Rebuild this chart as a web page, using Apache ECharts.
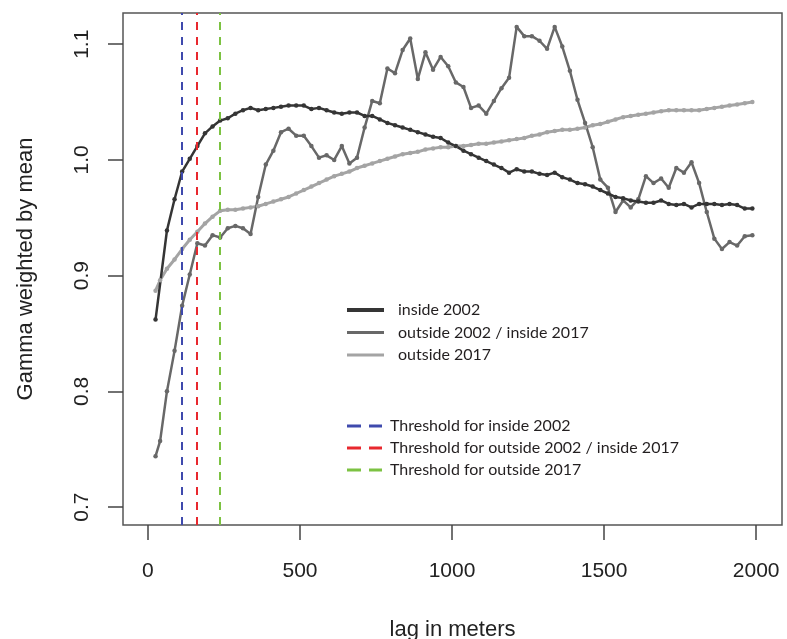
<!DOCTYPE html>
<html>
<head>
<meta charset="utf-8">
<script src="https://cdn.jsdelivr.net/npm/echarts@6/dist/echarts.min.js"></script>
<style>
  html, body { margin: 0; padding: 0; background: #fff; }
  #main { width: 787px; height: 639px; }
</style>
</head>
<body>
<div id="main"></div>
<script>
// lag bins (m), shared by all three curves after their first point(s)
var lags = [62.5,87.5,112.5,137.5,162.5,187.5,212.5,237.5,262.5,287.5,312.5,337.5,362.5,387.5,412.5,437.5,462.5,487.5,
  512.5,537.5,562.5,587.5,612.5,637.5,662.5,687.5,712.5,737.5,762.5,787.5,812.5,837.5,862.5,887.5,912.5,937.5,962.5,987.5,
  1012.5,1037.5,1062.5,1087.5,1112.5,1137.5,1162.5,1187.5,1212.5,1237.5,1262.5,1287.5,1312.5,1337.5,1362.5,1387.5,1412.5,1437.5,
  1462.5,1487.5,1512.5,1537.5,1562.5,1587.5,1612.5,1637.5,1662.5,1687.5,1712.5,1737.5,1762.5,1787.5,1812.5,1837.5,1862.5,1887.5,
  1912.5,1937.5,1962.5,1987.5];
var lagsIn = [25].concat(lags);
var lagsOut = [25, 40].concat(lags);

var inside2002 = [0.862, 0.939,0.966,0.990,1.001,1.012,1.023,1.029,1.034,1.036,1.040,1.043,1.045,1.043,1.044,1.045,1.046,1.047,1.047,
  1.047,1.044,1.045,1.043,1.041,1.040,1.041,1.041,1.038,1.038,1.035,1.032,1.030,1.028,1.026,1.024,1.022,1.020,1.019,1.015,
  1.012,1.008,1.005,1.002,0.999,0.996,0.993,0.989,0.992,0.990,0.990,0.988,0.987,0.989,0.985,0.983,0.980,0.979,0.977,0.974,
  0.971,0.968,0.967,0.965,0.964,0.963,0.963,0.965,0.962,0.961,0.962,0.959,0.962,0.962,0.962,0.961,0.962,0.961,0.958,0.958];

var outside2002 = [0.744, 0.757, 0.800,0.835,0.874,0.901,0.928,0.926,0.935,0.933,0.941,0.943,0.941,0.936,0.968,0.996,1.008,1.024,1.027,1.021,
  1.021,1.012,1.002,1.004,1.000,1.012,0.997,1.002,1.028,1.051,1.049,1.079,1.075,1.095,1.105,1.070,1.093,1.078,1.089,1.081,
  1.067,1.063,1.045,1.047,1.040,1.051,1.062,1.071,1.115,1.107,1.107,1.103,1.096,1.115,1.098,1.077,1.052,1.032,1.011,0.983,
  0.976,0.955,0.965,0.959,0.966,0.986,0.980,0.984,0.976,0.993,0.989,0.998,0.980,0.955,0.932,0.923,0.929,0.926,0.934,0.935];

var outside2017 = [0.887, 0.896, 0.906,0.914,0.923,0.931,0.938,0.945,0.951,0.956,0.957,0.957,0.958,0.959,0.960,0.962,0.964,0.966,0.968,0.971,
  0.974,0.977,0.980,0.983,0.986,0.988,0.990,0.993,0.995,0.997,0.999,1.001,1.003,1.005,1.006,1.007,1.009,1.010,1.011,1.011,
  1.012,1.012,1.013,1.014,1.014,1.015,1.016,1.017,1.018,1.019,1.021,1.022,1.024,1.025,1.026,1.026,1.027,1.028,1.030,1.031,
  1.033,1.035,1.037,1.038,1.039,1.040,1.041,1.042,1.043,1.043,1.043,1.043,1.043,1.044,1.045,1.046,1.047,1.048,1.049,1.050];

var thresholds = [112, 161, 237];
var xTicks = [0, 500, 1000, 1500, 2000];
var yTicks = [0.7, 0.8, 0.9, 1.0, 1.1];

function pairs(xs, ys) {
  var out = [];
  for (var i = 0; i < Math.min(xs.length, ys.length); i++) out.push([xs[i], ys[i]]);
  return out;
}

var solidIcon = 'path://M0,0h37v4h-37z';
var thinIcon = 'path://M0,0h37v3h-37z';
var dashIcon = 'path://M0,0h14v3h-14zM22,0h13v3h-13z';

var myChart = echarts.init(document.getElementById('main'));

function curve(name, xs, ys, color, width, size) {
  return {
    name: name, type: 'line', data: pairs(xs, ys),
    symbol: 'circle', symbolSize: size, color: color,
    lineStyle: { color: color, width: width },
    itemStyle: { color: color },
    animation: false
  };
}
function threshold(name, x, color) {
  return {
    name: name, type: 'line', data: [], color: color,
    markLine: {
      silent: true, symbol: 'none', label: { show: false },
      lineStyle: { color: color, type: [8, 7], width: 2 },
      data: [{ xAxis: x }]
    },
    animation: false
  };
}

var option = {
  animation: false,
  textStyle: { fontFamily: 'Liberation Sans' },
  grid: {
    left: 123, right: 5, top: 13, bottom: 114,
    containLabel: false, outerBoundsMode: 'none',
    show: true, borderColor: '#555', borderWidth: 1.5
  },
  xAxis: {
    type: 'value', min: -82, max: 2085,
    name: 'lag in meters', nameLocation: 'middle', nameGap: 94,
    nameTextStyle: { fontSize: 22, color: '#222' },
    axisLine: { show: false, onZero: false },
    splitLine: { show: false },
    axisTick: { show: true, length: 15, lineStyle: { color: '#444', width: 1.5 }, customValues: xTicks },
    axisLabel: {
      fontSize: 21, color: '#222', margin: 36, customValues: xTicks,
      formatter: function (v) { return String(v); }
    }
  },
  yAxis: {
    type: 'value', min: 0.6845, max: 1.127,
    name: 'Gamma weighted by mean', nameLocation: 'middle', nameGap: 86,
    nameTextStyle: { fontSize: 22, color: '#222' },
    axisLine: { show: false, onZero: false },
    splitLine: { show: false },
    axisTick: { show: true, length: 15, lineStyle: { color: '#444', width: 1.5 }, customValues: yTicks },
    axisLabel: {
      fontSize: 21, color: '#222', margin: 30, rotate: 90, customValues: yTicks,
      formatter: function (v) { return v.toFixed(1); }
    }
  },
  legend: [
    {
      orient: 'vertical', left: 347, top: 302, padding: 0, itemGap: 6.5,
      itemWidth: 37, itemHeight: 16,
      textStyle: { fontFamily: 'Lato', fontSize: 16, lineHeight: 16, color: '#231f20', padding: [0, 0, 0, 9] },
      data: [
        { name: 'inside 2002', icon: solidIcon },
        { name: 'outside 2002 / inside 2017', icon: thinIcon },
        { name: 'outside 2017', icon: thinIcon }
      ]
    },
    {
      orient: 'vertical', left: 347, top: 418, padding: 0, itemGap: 6,
      itemWidth: 35, itemHeight: 16,
      textStyle: { fontFamily: 'Lato', fontSize: 16, lineHeight: 16, color: '#231f20', padding: [0, 0, 0, 3] },
      data: [
        { name: 'Threshold for inside 2002', icon: dashIcon },
        { name: 'Threshold for outside 2002 / inside 2017', icon: dashIcon },
        { name: 'Threshold for outside 2017', icon: dashIcon }
      ]
    }
  ],
  series: [
    curve('outside 2017', lagsOut, outside2017, '#a4a4a4', 3, 4.5),
    curve('outside 2002 / inside 2017', lagsOut, outside2002, '#686868', 2.5, 4.5),
    curve('inside 2002', lagsIn, inside2002, '#353535', 2.5, 4.5),
    threshold('Threshold for inside 2002', thresholds[0], '#3f4aad'),
    threshold('Threshold for outside 2002 / inside 2017', thresholds[1], '#e8282e'),
    threshold('Threshold for outside 2017', thresholds[2], '#7cc242')
  ]
};

myChart.setOption(option);
</script>
</body>
</html>
